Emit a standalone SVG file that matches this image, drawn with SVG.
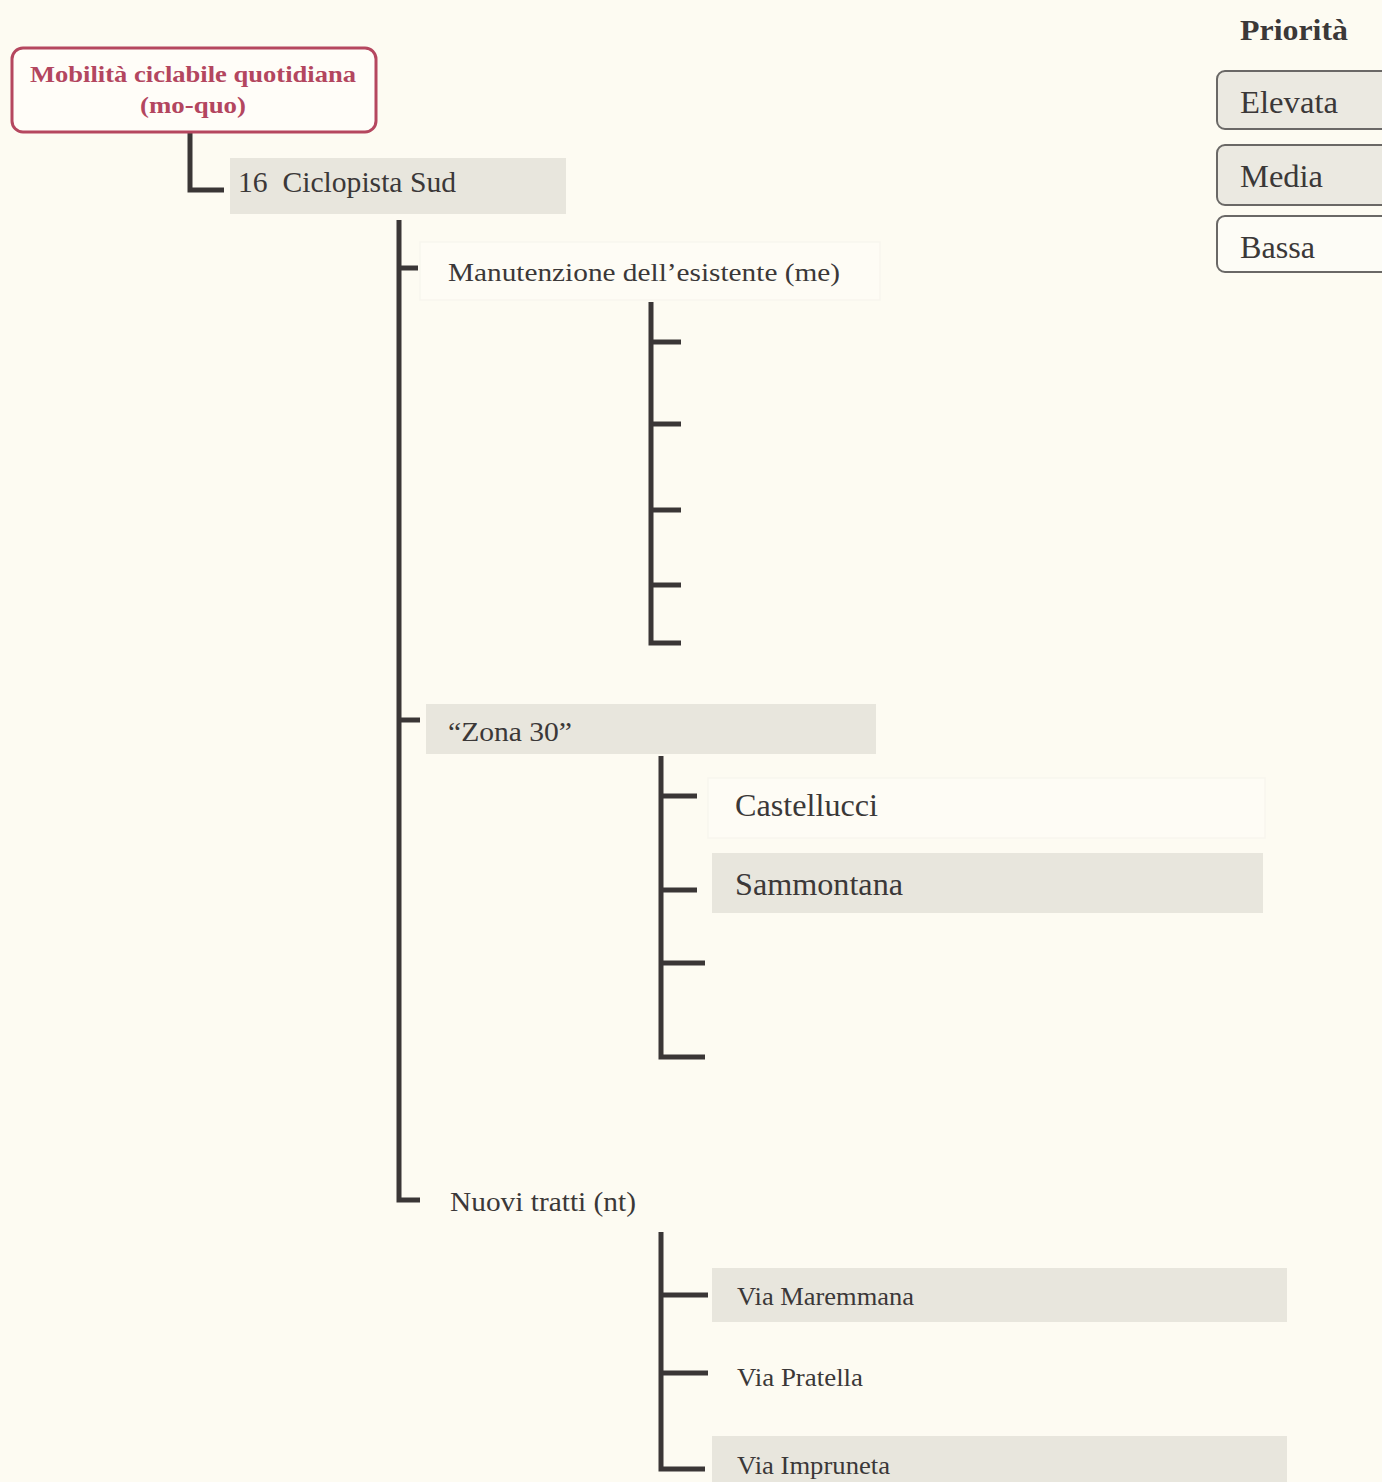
<svg xmlns="http://www.w3.org/2000/svg" width="1382" height="1482" viewBox="0 0 1382 1482">
  <defs>
    <style>
      .bg { fill: #fdfbf2; }
      .t { font-family: "Liberation Serif", "Times New Roman", serif; fill: #3b3838; }
      .root-box { fill: #fffdf8; stroke: #b5475f; stroke-width: 3; }
      .root-t { font-family: "Liberation Serif", "Times New Roman", serif; font-weight: bold; fill: #b3465f; font-size: 23px; }
      .hl { fill: #e8e6dd; }
      .faint { fill: #fefcf5; stroke: #f8f6ee; stroke-width: 1.5; }
      .link { fill: none; stroke: #3a3636; stroke-width: 5; stroke-linecap: butt; }
      .leg { stroke: #6a6866; stroke-width: 2; }
      .leg-hi { fill: #ebe9e1; }
      .leg-lo { fill: #fdfcf6; }
    </style>
  </defs>

  <rect class="bg" x="0" y="0" width="1382" height="1482"/>

  <!-- connectors -->
  <g id="connectors">
    <path class="link" d="M190 132 V190 H224"/>
    <path class="link" d="M399 220 V1200 H420"/>
    <path class="link" d="M399 268 H418"/>
    <path class="link" d="M399 720 H420"/>
    <!-- me sub-branch -->
    <path class="link" d="M651 302 V643 H681"/>
    <path class="link" d="M651 342 H681"/>
    <path class="link" d="M651 424 H681"/>
    <path class="link" d="M651 510 H681"/>
    <path class="link" d="M651 585 H681"/>
    <!-- zona 30 sub-branch -->
    <path class="link" d="M661 756 V1057 H705"/>
    <path class="link" d="M661 796 H697"/>
    <path class="link" d="M661 890 H697"/>
    <path class="link" d="M661 963 H705"/>
    <!-- nuovi tratti sub-branch -->
    <path class="link" d="M661 1232 V1469 H705"/>
    <path class="link" d="M661 1295 H708"/>
    <path class="link" d="M661 1373 H708"/>
  </g>

  <!-- root -->
  <g id="node-root">
    <rect class="root-box" x="12" y="48" width="364" height="84" rx="11"/>
    <text class="root-t" x="30" y="82" textLength="326" lengthAdjust="spacingAndGlyphs">Mobilità ciclabile quotidiana</text>
    <text class="root-t" x="140" y="113" textLength="106" lengthAdjust="spacingAndGlyphs">(mo-quo)</text>
  </g>

  <g id="node-ciclopista">
    <rect class="hl" x="230" y="158" width="336" height="56"/>
    <text class="t" x="238" y="192" font-size="29" textLength="218" lengthAdjust="spacingAndGlyphs">16&#160; Ciclopista Sud</text>
  </g>

  <g id="node-me">
    <rect class="faint" x="420" y="242" width="460" height="58"/>
    <text class="t" x="448" y="281" font-size="26" textLength="392" lengthAdjust="spacingAndGlyphs">Manutenzione dell’esistente (me)</text>
  </g>

  <g id="node-zona30">
    <rect class="hl" x="426" y="704" width="450" height="50"/>
    <text class="t" x="448" y="741" font-size="28" textLength="124" lengthAdjust="spacingAndGlyphs">“Zona 30”</text>
  </g>

  <g id="node-castellucci">
    <rect class="faint" x="708" y="778" width="557" height="60"/>
    <text class="t" x="735" y="816" font-size="32" textLength="143" lengthAdjust="spacingAndGlyphs">Castellucci</text>
  </g>

  <g id="node-sammontana">
    <rect class="hl" x="712" y="853" width="551" height="60"/>
    <text class="t" x="735" y="895" font-size="32" textLength="168" lengthAdjust="spacingAndGlyphs">Sammontana</text>
  </g>

  <g id="node-nt">
    <text class="t" x="450" y="1211" font-size="27" textLength="186" lengthAdjust="spacingAndGlyphs">Nuovi tratti (nt)</text>
  </g>

  <g id="node-maremmana">
    <rect class="hl" x="712" y="1268" width="575" height="54"/>
    <text class="t" x="737" y="1305" font-size="26" textLength="177" lengthAdjust="spacingAndGlyphs">Via Maremmana</text>
  </g>

  <g id="node-pratella">
    <text class="t" x="737" y="1386" font-size="26" textLength="126" lengthAdjust="spacingAndGlyphs">Via Pratella</text>
  </g>

  <g id="node-impruneta">
    <rect class="hl" x="712" y="1436" width="575" height="50"/>
    <text class="t" x="737" y="1474" font-size="26" textLength="153" lengthAdjust="spacingAndGlyphs">Via Impruneta</text>
  </g>

  <!-- priority legend -->
  <g id="legend">
    <text class="t" x="1240" y="40" font-size="30" font-weight="bold" fill="#444" textLength="108" lengthAdjust="spacingAndGlyphs">Priorità</text>
    <rect class="leg leg-hi" x="1217" y="71" width="180" height="58" rx="8"/>
    <text class="t" x="1240" y="113" font-size="32" textLength="98" lengthAdjust="spacingAndGlyphs">Elevata</text>
    <rect class="leg leg-hi" x="1217" y="145" width="180" height="60" rx="8"/>
    <text class="t" x="1240" y="187" font-size="32" textLength="83" lengthAdjust="spacingAndGlyphs">Media</text>
    <rect class="leg leg-lo" x="1217" y="216" width="180" height="56" rx="8"/>
    <text class="t" x="1240" y="258" font-size="32" textLength="75" lengthAdjust="spacingAndGlyphs">Bassa</text>
  </g>
</svg>
